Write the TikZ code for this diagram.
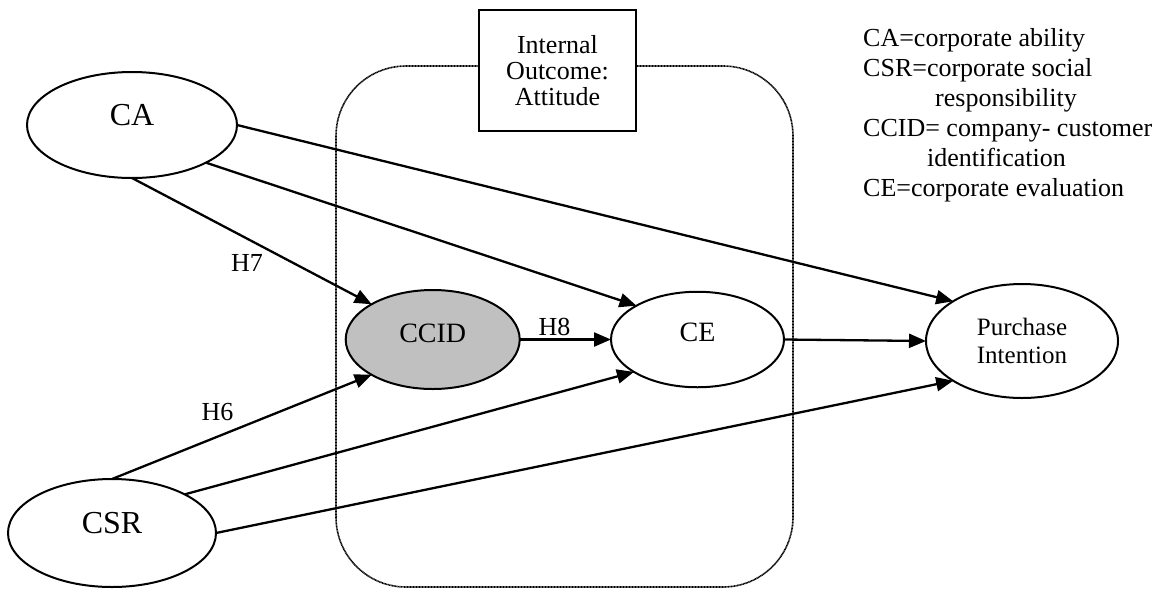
\documentclass[tikz,border=0pt]{standalone}
\usepackage{fontspec}
\setmainfont{Liberation Serif}
\usetikzlibrary{shapes.geometric,arrows.meta}
\definecolor{ccgray}{HTML}{C0C0C0}
\begin{document}
\begin{tikzpicture}[x=1pt,y=-1pt,
  construct/.style={ellipse, draw, line width=2pt, inner sep=0pt, outer sep=0pt,
                    text height=8pt, text depth=8pt},
  link/.style={line width=2.3pt, -{Triangle[length=17pt,width=14pt]}},
  hyp/.style={anchor=base, font=\fontsize{26}{30}\selectfont, inner sep=0pt},
  legend/.style={anchor=base west, font=\fontsize{26}{30}\selectfont, inner sep=0pt},
]
\useasboundingbox (0,0) rectangle (1173,590);

% dotted frame around the internal outcome constructs
\draw[line width=1.6pt, dash pattern=on 1pt off 0.5pt, rounded corners=70pt]
  (336,66) rectangle (793,587);

% frame title
\node[draw, fill=white, line width=2pt, minimum width=157pt, minimum height=121pt,
      align=center, font=\fontsize{26}{26}\selectfont, inner sep=0pt]
  (att) at (557.5,70.5) {Internal\\Outcome:\\Attitude};

% constructs
\node[construct, minimum width=210pt, minimum height=106pt,
      font=\fontsize{32}{36}\selectfont] (ca) at (132,125) {CA};
\node[construct, minimum width=208pt, minimum height=108pt,
      font=\fontsize{32}{36}\selectfont] (csr) at (112,533) {CSR};
\node[construct, fill=ccgray, minimum width=174pt, minimum height=99pt,
      font=\fontsize{28}{32}\selectfont, text height=11pt, text depth=5pt]
  (ccid) at (432.7,339.5) {CCID};
\node[construct, minimum width=173pt, minimum height=95.5pt,
      font=\fontsize{28}{32}\selectfont, text height=9.5pt, text depth=6.5pt]
  (ce) at (697.5,339.5) {CE};
\node[ellipse, draw, line width=2pt, inner sep=0pt, outer sep=0pt,
      minimum width=192pt, minimum height=114pt, align=center,
      font=\fontsize{25}{28.3}\selectfont]
  (pi) at (1022,341) {Purchase\\Intention};

% paths
\draw[link] (ca.south) -- (ccid.150);
\draw[link] (ca.-27) -- (ce.151);
\draw[link] (ca.east) -- (pi.150);
\draw[link] (ccid.east) -- (ce.west);
\draw[link] (ce.east) -- (pi.west);
\draw[link] (csr.north) -- (ccid.210);
\draw[link] (csr.28) -- (ce.207);
\draw[link] (csr.east) -- (pi.210);

% hypothesis labels
\node[hyp] (h7) at (247,271) {H7};
\node[hyp] (h6) at (217.5,420) {H6};
\node[hyp] (h8) at (554.5,335.7) {H8};

% legend
\node[legend] (l1) at (863,46.5) {CA=corporate ability};
\node[legend] (l2) at (863,76.5) {CSR=corporate social};
\node[legend] (l3) at (935,106.5) {responsibility};
\node[legend] (l4) at (863,136.5) {CCID= company- customer};
\node[legend] (l5) at (927,166.5) {identification};
\node[legend] (l6) at (863,196.5) {CE=corporate evaluation};
\end{tikzpicture}
\end{document}
